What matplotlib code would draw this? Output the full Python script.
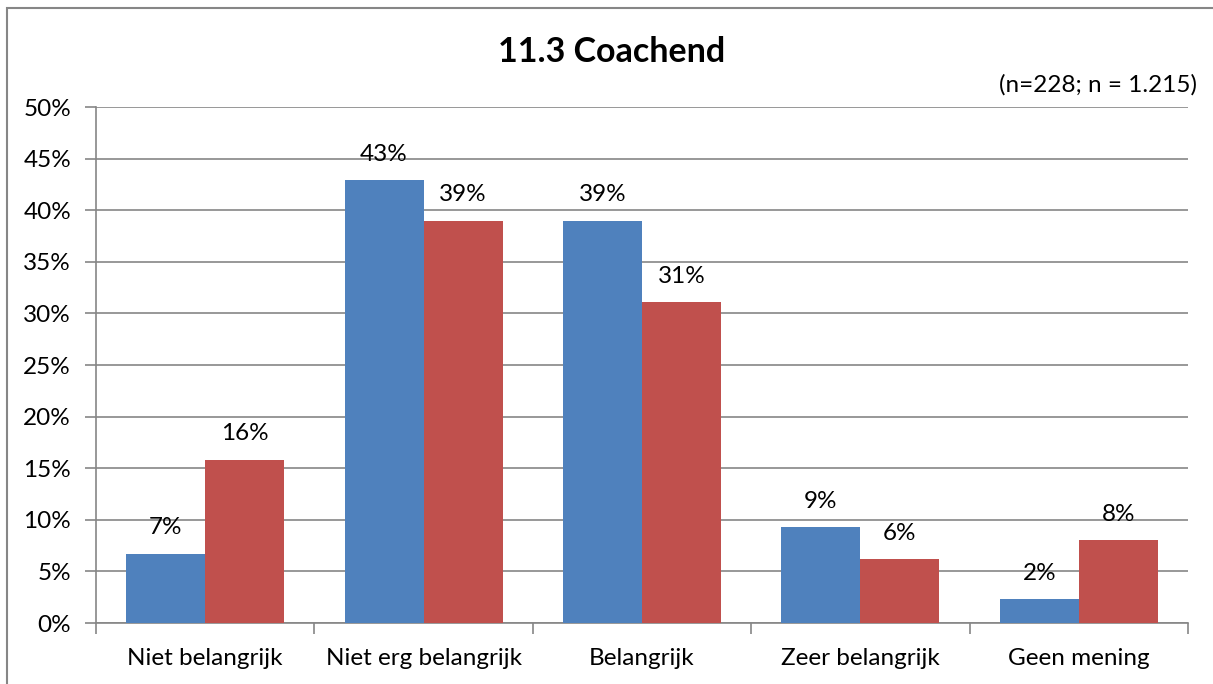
import matplotlib
matplotlib.use("Agg")
import matplotlib.pyplot as plt
from matplotlib.patches import Rectangle
import numpy as np

categories = ["Niet belangrijk", "Niet erg belangrijk", "Belangrijk", "Zeer belangrijk", "Geen mening"]
series_a = [6.7, 42.9, 39.0, 9.3, 2.3]
series_b = [15.8, 39.0, 31.1, 6.2, 8.0]
title = "11.3 Coachend"
subtitle = "(n=228; n = 1.215)"
yticks = [0, 5, 10, 15, 20, 25, 30, 35, 40, 45, 50]

blue = "#4F81BD"
red = "#C0504D"
grid = "#868686"
fs = 17.5

plt.rcParams["font.family"] = ["Lato", "DejaVu Sans"]

W, H = 1213, 684
fig = plt.figure(figsize=(W / 100, H / 100), dpi=100)
ax = fig.add_axes([96 / W, 1 - 623 / H, (1188 - 96) / W, (623 - 107) / H])

x = np.arange(len(categories))
bw = 0.362
ax.bar(x - bw / 2, series_a, bw, color=blue, zorder=3)
ax.bar(x + bw / 2, series_b, bw, color=red, zorder=3)

for xi, v in zip(x - bw / 2, series_a):
    ax.annotate(f"{v:.0f}%", (xi, v), xytext=(0, 26), textcoords="offset pixels",
                ha="center", va="center", fontsize=fs, zorder=4)
for xi, v in zip(x + bw / 2, series_b):
    ax.annotate(f"{v:.0f}%", (xi, v), xytext=(0, 26), textcoords="offset pixels",
                ha="center", va="center", fontsize=fs, zorder=4)

ax.set_xlim(-0.5, len(categories) - 0.5)
ax.set_ylim(0, 50)
ax.set_yticks(yticks)
ax.set_yticklabels([f"{t}%" for t in yticks], fontsize=fs)
ax.yaxis.grid(True, color=grid, linewidth=1.2, zorder=0)
ax.tick_params(axis="y", length=8, width=1.2, color=grid, pad=10)

ax.set_xticks(x)
ax.set_xticklabels(categories, fontsize=fs)
ax.tick_params(axis="x", length=0, pad=18)
ax.set_xticks(np.arange(-0.5, len(categories)), minor=True)
ax.tick_params(axis="x", which="minor", length=8, width=1.2, color=grid)

for side in ["top", "right"]:
    ax.spines[side].set_visible(False)
for side in ["left", "bottom"]:
    ax.spines[side].set_color(grid)
    ax.spines[side].set_linewidth(1.2)

fig.text(612 / W, 1 - 52 / H, title, ha="center", va="center", fontsize=24.5, fontweight="bold")
fig.text(1197 / W, 1 - 85 / H, subtitle, ha="right", va="center", fontsize=fs)

fig.patches.append(Rectangle((7 / W, -0.1), 1.2, 1 - 8 / H + 0.1, transform=fig.transFigure,
                             fill=False, edgecolor=grid, linewidth=1.5))

fig.savefig("out.png", dpi=100)
